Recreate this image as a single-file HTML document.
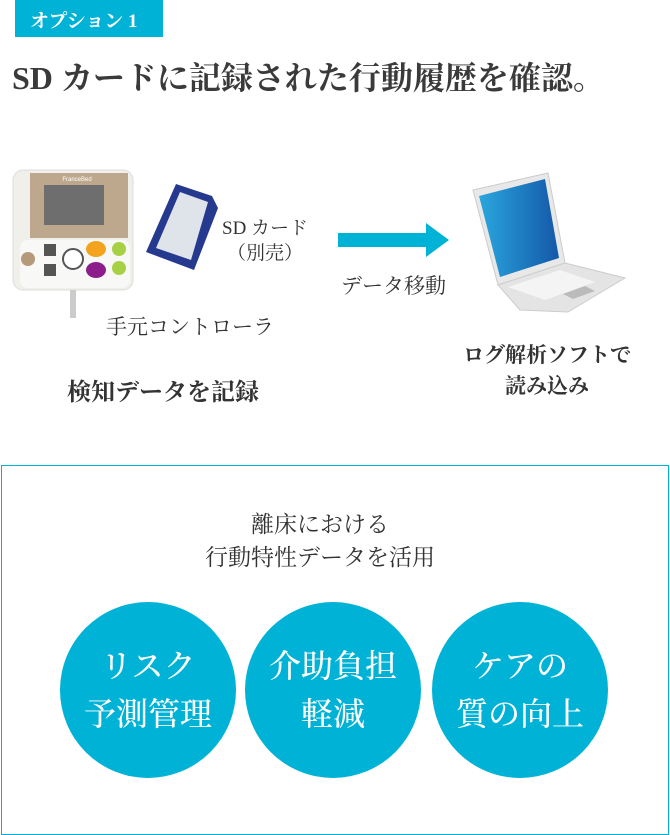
<!DOCTYPE html>
<html><head><meta charset="utf-8"><style>
body{margin:0;width:670px;height:835px;background:#fff;position:relative;overflow:hidden;font-family:"Liberation Serif","Noto Serif CJK SC",serif;color:#333}
.a{position:absolute;white-space:nowrap}
.c{position:absolute;width:176px;height:176px;border-radius:50%;background:#00b3d6;color:#fff;font-size:32px;line-height:48px;text-align:center;display:flex;align-items:center;justify-content:center;font-weight:500}
</style></head><body>
<div class="a" style="left:15px;top:0;width:148px;height:37px;background:#00b3d6"></div>
<div class="a" style="left:30px;top:6px;font-size:19px;color:#fff;font-weight:bold">オプション 1</div>
<div class="a" style="left:12px;top:53px;font-size:32px;font-weight:bold;color:#3a3a3a">SD カードに記録された行動履歴を確認。</div>

<svg class="a" style="left:0;top:160px" width="670" height="160">
<defs><linearGradient id="g" x1="0" x2="1"><stop offset="0" stop-color="#2aa6dd"/><stop offset="1" stop-color="#1458a8"/></linearGradient></defs>
<rect x="13" y="10" width="120" height="120" rx="10" fill="#f1efea" stroke="#ddd"/>
<rect x="30" y="13" width="98" height="65" fill="#bda88e"/>
<rect x="44" y="25" width="60" height="40" fill="#6e6e6e"/>
<text x="77" y="21" font-size="6" fill="#fff" text-anchor="middle" font-family="Liberation Sans">FranceBed</text>
<rect x="20" y="80" width="110" height="48" rx="8" fill="#f8f8f6"/>
<circle cx="28" cy="99" r="7" fill="#b49a7a"/>
<rect x="44" y="84" width="12" height="12" fill="#555"/><rect x="44" y="104" width="12" height="12" fill="#555"/>
<circle cx="73" cy="99" r="10" fill="#fff" stroke="#555" stroke-width="2"/>
<ellipse cx="96" cy="89" rx="10" ry="8" fill="#f3a31d"/><ellipse cx="96" cy="110" rx="10" ry="8" fill="#8c1e8c"/>
<circle cx="119" cy="89" r="7" fill="#a6d145"/><circle cx="119" cy="108" r="7" fill="#a6d145"/>
<rect x="70" y="130" width="6" height="28" fill="#ccc"/>
<polygon points="176,24 212,36 218,48 194,110 146,92" fill="#253a8e"/>
<polygon points="180,32 208,42 191,100 156,88" fill="#dfe3ea"/>
<polygon points="338,73 426,73 426,63 449,80 426,97 426,87 338,87" fill="#00b3d6"/>
<polygon points="473,30 548,13 565,103 498,125" fill="#e8e8e8" stroke="#ccc"/>
<polygon points="479,36 545,19 559,98 500,117" fill="url(#g)"/>
<polygon points="498,125 565,103 625,118 568,152 520,150" fill="#e4e4e4" stroke="#ccc"/>
<polygon points="508,127 560,110 595,122 545,140" fill="#f4f4f4"/>
<polygon points="563,134 585,126 595,131 573,139" fill="#bbb"/>
</svg>

<div class="a" style="left:222px;top:216px;font-size:19px;text-align:center;line-height:25px">SD カード<br>（別売）</div>
<div class="a" style="left:341px;top:270px;font-size:21px">データ移動</div>
<div class="a" style="left:106px;top:311px;font-size:21px">手元コントローラ</div>
<div class="a" style="left:67px;top:372px;font-size:24px;font-weight:bold">検知データを記録</div>
<div class="a" style="left:463px;top:340px;font-size:21px;font-weight:bold;text-align:center;line-height:31px">ログ解析ソフトで<br>読み込み</div>

<div class="a" style="left:1px;top:465px;width:666px;height:368px;border:1px solid #00b3d6"></div>
<div class="a" style="left:0;width:640px;top:508px;font-size:23px;text-align:center;line-height:33px">離床における<br>行動特性データを活用</div>
<div class="c" style="left:60px;top:602px">リスク<br>予測管理</div>
<div class="c" style="left:245px;top:602px">介助負担<br>軽減</div>
<div class="c" style="left:432px;top:602px">ケアの<br>質の向上</div>
</body></html>
